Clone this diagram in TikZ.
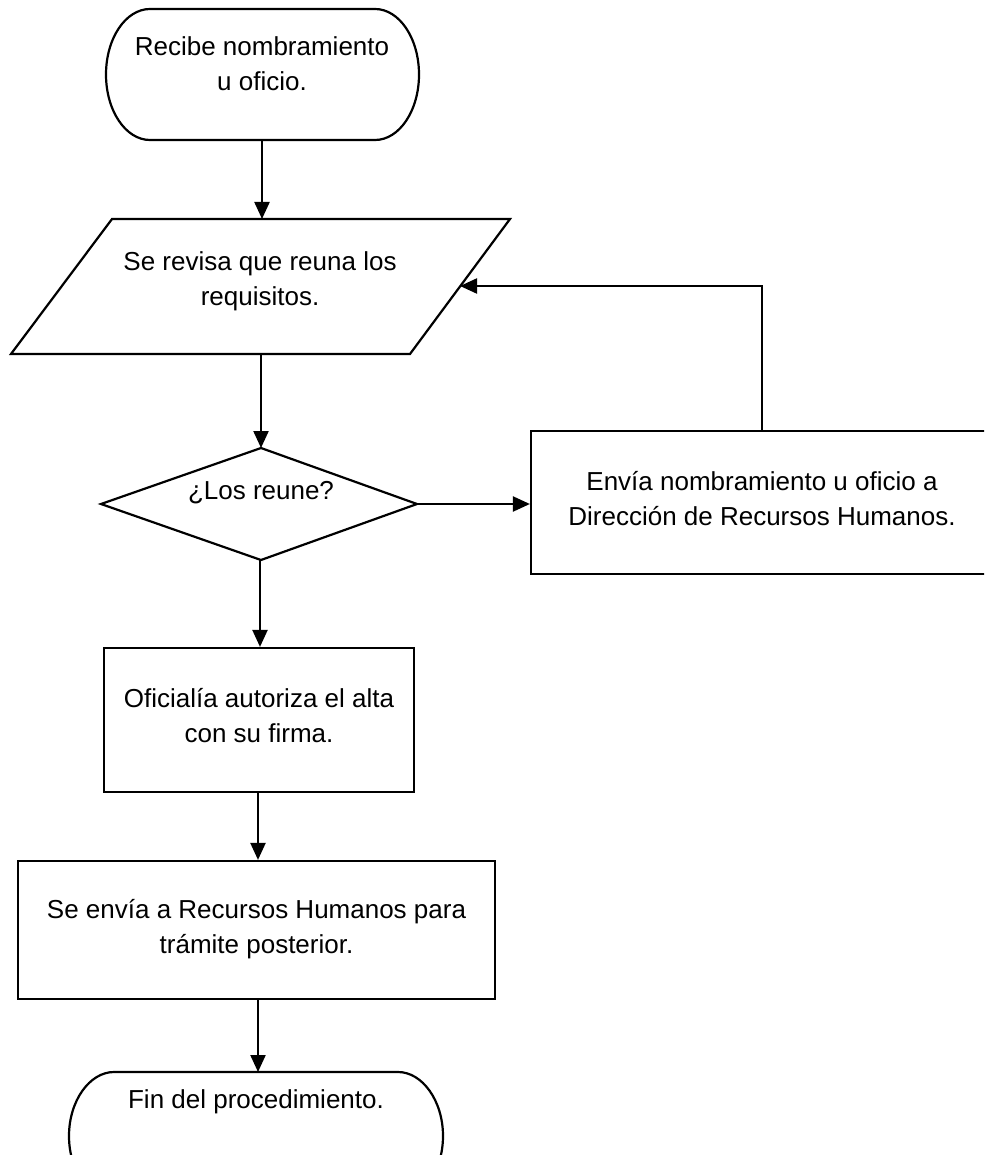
\documentclass[tikz,border=0pt]{standalone}
\usepackage{fontspec}
\setmainfont{Liberation Sans}
\usetikzlibrary{arrows.meta}
\tikzset{
  shp/.style={draw=black, line width=2.2pt, line join=miter},
  lbl/.style={align=center, inner sep=0pt, font=\fontsize{26}{35}\selectfont},
  flow/.style={line width=2.2pt, -{Triangle[length=17pt,width=15pt]}},
  box/.style={shp, rectangle, inner sep=0pt}
}
\begin{document}
\begin{tikzpicture}[x=1pt,y=-1pt]
\useasboundingbox (0,0) rectangle (984,1155);
\clip (0,0) rectangle (984,1155);
\fill[white] (0,0) rectangle (984,1155);

% Start terminal
\draw[shp] (150,9) -- (375,9) .. controls (399.3,9) and (419,38.3) .. (419,74.5)
  .. controls (419,110.7) and (399.3,140) .. (375,140) -- (150,140)
  .. controls (125.7,140) and (106,110.7) .. (106,74.5)
  .. controls (106,38.3) and (125.7,9) .. (150,9) -- cycle;
\coordinate (t1s) at (262,140);
\node[lbl] (t1txt) at (262,64) {Recibe nombramiento\\u oficio.};

% Parallelogram
\draw[shp] (112,219) -- (510,219) -- (410,354) -- (11,354) -- cycle;
\coordinate (pn) at (262,219);
\coordinate (ps) at (261,354);
\coordinate (pe) at (460,286);
\node[lbl] (ptxt) at (260,281) {Se revisa que reuna los\\requisitos.};

% Decision
\draw[shp] (261,448) -- (417,504) -- (261,560) -- (101,504) -- cycle;
\coordinate (dn) at (261,448);
\coordinate (de) at (417,504);
\coordinate (ds) at (260,560);
\node[lbl] (dtxt) at (261,493) {¿Los reune?};

% Right box
\node[box, minimum width=462pt, minimum height=143pt] (rb) at (762,502.5) {};
\node[lbl] (rbtxt) at (762,498.5) {Envía nombramiento u oficio a\\Dirección de Recursos Humanos.};

% Box A
\node[box, minimum width=310pt, minimum height=144pt] (ba) at (259,720) {};
\node[lbl] (batxt) at (259,715.5) {Oficialía autoriza el alta\\con su firma.};

% Box B
\node[box, minimum width=477pt, minimum height=138pt] (bb) at (256.5,930) {};
\node[lbl] (bbtxt) at (256.5,929.5) {Se envía a Recursos Humanos para\\trámite posterior.};

% End terminal
\draw[shp] (114,1072) -- (398,1072) .. controls (422.3,1072) and (443,1100.7) .. (443,1136)
  .. controls (443,1171.3) and (422.3,1200) .. (398,1200) -- (114,1200)
  .. controls (89.7,1200) and (69,1171.3) .. (69,1136)
  .. controls (69,1100.7) and (89.7,1072) .. (114,1072) -- cycle;
\coordinate (t2n) at (258,1072);
\node[lbl] (t2txt) at (256,1102) {Fin del procedimiento.};

% Connectors
\draw[flow] (t1s) -- (pn);
\draw[flow] (ps) -- (dn);
\draw[flow] (de) -- (rb.west |- de);
\draw[flow] (ds) -- (ds |- ba.north);
\draw[flow] (ba.south -| 258,0) -- (258,0 |- bb.north);
\draw[flow] (bb.south -| 258,0) -- (t2n);
\draw[flow] (rb.north) |- (pe);
\end{tikzpicture}
\end{document}
